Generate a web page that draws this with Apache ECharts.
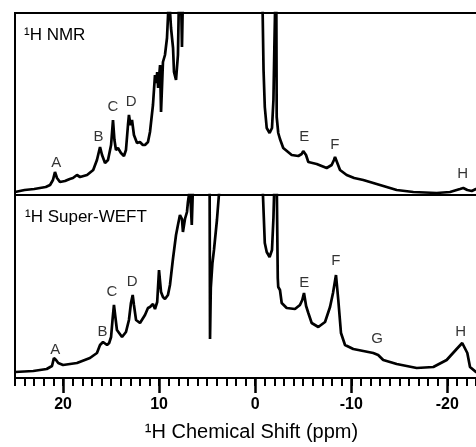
<!DOCTYPE html>
<html><head><meta charset="utf-8">
<script src="https://cdn.jsdelivr.net/npm/echarts@6/dist/echarts.min.js"></script>
<style>html,body{margin:0;padding:0;background:#fff}#c{width:476px;height:447px}</style>
</head><body><div id="c"></div>
<script>
// ---- 1H NMR (top panel) ----
const nmrPpm = [25.0,24.0,23.0,22.4,21.8,21.35,21.05,20.84,20.63,20.32,19.8,19.3,18.97,18.55,18.23,17.5,16.86,16.47,16.15,15.94,15.63,15.32,15.0,14.8,14.65,14.49,14.28,13.97,13.66,13.45,13.24,13.14,12.98,12.82,12.62,12.3,12.0,11.69,11.47,11.16,10.95,10.64,10.43,10.3,10.2,10.1,9.9,9.8,9.6,9.39,9.18,8.97,8.76,8.55,8.45,8.24,8.04,7.93,7.72,7.62,7.52,7.2,0.0,-0.55,-0.78,-0.87,-1.0,-1.2,-1.5,-1.75,-1.9,-2.0,-2.08,-2.15,-2.2,-2.24,-2.4,-2.58,-2.92,-3.8,-4.49,-4.84,-5.0,-5.08,-5.29,-5.53,-6.4,-7.44,-7.96,-8.2,-8.31,-8.55,-8.83,-9.52,-10.3,-11.25,-12.99,-14.73,-16.46,-18.89,-20.28,-21.32,-21.66,-22.08,-22.54,-22.98,-23.4];
const nmrIntensity = [3,5,6,7,8,10,15,23,17,13,14,16,17,20,18,20,25,35,48,40,32,35,50,75,55,45,47,42,39,45,70,80,70,75,60,52,53,50,50,53,63,90,120,112,123,107,130,83,133,140,157,200,167,147,123,115,140,200,200,148,200,300,300,300,180,125,88,67,62,67,95,150,190,300,190,78,62,56,47,40,39,41,44,46,40,33,31,27,30,35,38,32,25,20,17,15,10,5,3,2,3,6,7,5,4,6,6];

// ---- 1H Super-WEFT (bottom panel) ----
const weftPpm = [25.0,23.1,21.7,21.15,20.95,20.73,20.5,20.0,18.55,17.2,16.47,16.15,15.84,15.42,15.2,15.0,14.85,14.7,14.54,14.39,13.86,13.45,13.14,12.93,12.75,12.62,12.4,11.99,11.47,11.16,10.95,10.64,10.43,10.2,10.01,9.8,9.6,9.39,9.08,8.87,8.56,8.24,8.04,7.83,7.62,7.52,7.31,7.1,7.0,6.79,6.6,6.45,6.2,5.0,4.76,4.7,4.62,4.45,4.29,3.98,3.72,3.4,-0.6,-0.78,-0.9,-1.0,-1.2,-1.5,-1.75,-1.9,-2.0,-2.12,-2.25,-2.35,-2.4,-2.58,-2.76,-3.28,-4.14,-4.66,-4.9,-5.08,-5.3,-5.53,-5.88,-6.57,-7.27,-7.79,-8.1,-8.41,-8.65,-8.93,-9.35,-10.21,-11.25,-12.29,-12.8,-13.33,-14.73,-16.81,-18.54,-19.93,-20.97,-21.55,-22.08,-22.36,-22.98,-23.4];
const weftIntensity = [6,7,9,12,20,18,15,13,15,20,25,33,36,33,35,41,58,73,60,48,41,46,58,75,83,73,58,55,63,70,71,74,69,76,108,86,81,79,83,93,119,143,153,163,159,146,159,166,176,190,153,200,250,250,250,39,90,115,128,158,190,250,250,190,160,135,126,121,128,160,195,300,190,100,91,88,75,70,69,73,78,85,72,65,55,51,56,71,85,103,78,45,33,29,27,25,23,18,14,10,11,18,29,35,25,11,6,5];

// ---- peak labels ----
const nmrPeakNames = ['A','B','C','D','E','F','H'];
const nmrPeakPpm = [20.7,16.3,14.8,12.9,-5.1,-8.3,-21.6];
const nmrPeakLevel = [32,58,88,93,58,50,21];
const weftPeakNames = ['A','B','C','D','E','F','G','H'];
const weftPeakPpm = [20.8,15.9,14.9,12.8,-5.1,-8.4,-12.7,-21.4];
const weftPeakLevel = [28,46.5,86,96.5,95,117,39.5,46];

// ---- axis ticks ----
const majorTicks = [20,10,0,-10,-20];
const ppmMin = -23.4, ppmMax = 25;
const minorTicks = [];
for (let v = Math.ceil(ppmMin); v <= ppmMax; v++) minorTicks.push(v);

const FONT = 'Liberation Sans, Arial, Helvetica, sans-serif';
const zip = (a, b) => a.map((x, i) => [x, b[i]]);
const labelData = (n, p, l) => n.map((name, i) => ({ name, value: [p[i], l[i]] }));

const chart = echarts.init(document.getElementById('c'), null, { renderer: 'canvas' });
const gridBase = { left: 15, right: -4, show: true, borderColor: '#000', borderWidth: 2, backgroundColor: 'transparent', outerBoundsMode: 'none', containLabel: false };
const hiddenX = (gi) => ({ type: 'value', gridIndex: gi, min: ppmMin, max: ppmMax, inverse: true, show: false });

const labelSeries = (xi, yi, data) => ({
  type: 'scatter', xAxisIndex: xi, yAxisIndex: yi, symbolSize: 1, itemStyle: { color: 'rgba(0,0,0,0)' },
  silent: true, z: 5,
  label: { show: true, position: 'inside', formatter: '{b}', color: '#000', fontSize: 15, fontFamily: FONT },
  data
});

chart.setOption({
  animation: false,
  backgroundColor: '#fff',
  title: [
    { text: '\u00b9H NMR', left: 24, top: 27, padding: 0, textStyle: { fontSize: 17, fontWeight: 'normal', color: '#000', fontFamily: FONT } },
    { text: '\u00b9H Super-WEFT', left: 25, top: 209, padding: 0, textStyle: { fontSize: 17, fontWeight: 'normal', color: '#000', fontFamily: FONT } }
  ],
  grid: [
    Object.assign({ top: 13, height: 182 }, gridBase),
    Object.assign({ top: 195, height: 183 }, gridBase)
  ],
  xAxis: [
    hiddenX(0),
    {
      type: 'value', gridIndex: 1, min: ppmMin, max: ppmMax, inverse: true, position: 'bottom',
      axisLine: { show: false }, splitLine: { show: false },
      axisTick: { show: true, length: 15, lineStyle: { color: '#000', width: 2.5 }, customValues: majorTicks },
      axisLabel: { show: true, customValues: majorTicks, margin: 19, fontSize: 16, fontWeight: 'bold', color: '#000', fontFamily: FONT,
                   showMinLabel: true, showMaxLabel: true },
      name: '\u00b9H Chemical Shift (ppm)', nameLocation: 'middle', nameGap: 44,
      nameTextStyle: { fontSize: 20, color: '#000', fontFamily: FONT, padding: [0, 0, 0, 8] }
    },
    {
      type: 'value', gridIndex: 1, min: ppmMin, max: ppmMax, inverse: true, position: 'bottom',
      axisLine: { show: false }, splitLine: { show: false }, axisLabel: { show: false },
      axisTick: { show: true, length: 8, lineStyle: { color: '#000', width: 2 }, customValues: minorTicks }
    }
  ],
  yAxis: [
    { type: 'value', gridIndex: 0, min: 0, max: 182, show: false },
    { type: 'value', gridIndex: 1, min: 0, max: 183, show: false }
  ],
  series: [
    { type: 'line', xAxisIndex: 0, yAxisIndex: 0, data: zip(nmrPpm, nmrIntensity), showSymbol: false, clip: true,
      lineStyle: { color: '#000', width: 2.7 }, z: 3 },
    { type: 'line', xAxisIndex: 1, yAxisIndex: 1, data: zip(weftPpm, weftIntensity), showSymbol: false, clip: true,
      lineStyle: { color: '#000', width: 2.7 }, z: 3 },
    labelSeries(0, 0, labelData(nmrPeakNames, nmrPeakPpm, nmrPeakLevel)),
    labelSeries(1, 1, labelData(weftPeakNames, weftPeakPpm, weftPeakLevel))
  ]
});
</script></body></html>
